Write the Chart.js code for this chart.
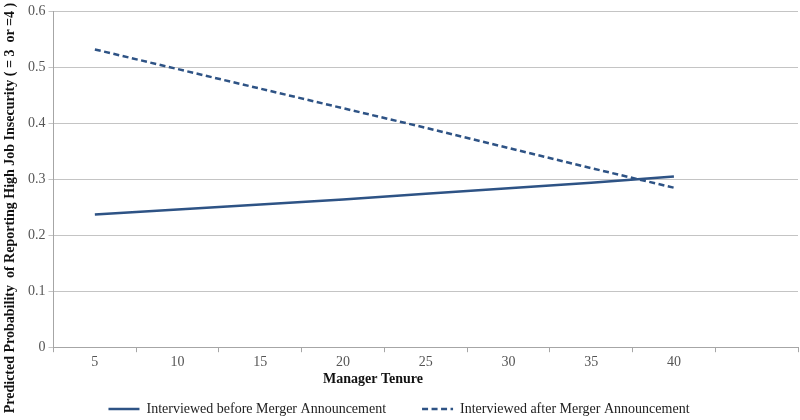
<!DOCTYPE html>
<html lang="en">
<head>
  <meta charset="UTF-8">
  <title>Manager Tenure</title>
  <script src="https://cdn.jsdelivr.net/npm/chart.js"></script>
  <style>
    html, body { margin: 0; padding: 0; background: #fff; }
    #wrap { width: 800px; height: 420px; }
  </style>
</head>
<body>
<div id="wrap"><canvas id="tenureChart"></canvas></div>
<script>
  // Manager tenure categories (last one is an empty slot, as in the original)
  const tenure = ['5', '10', '15', '20', '25', '30', '35', '40', ''];
  const beforeMerger = [0.237, 0.246, 0.255, 0.264, 0.274, 0.284, 0.294, 0.305];
  const afterMerger = [0.532, 0.497, 0.462, 0.427, 0.392, 0.356, 0.320, 0.285];
  const yTicks = [0, 0.1, 0.2, 0.3, 0.4, 0.5, 0.6];

  const xTitle = 'Manager Tenure';
  const yTitle = 'Predicted Probability  of Reporting High Job Insecurity ( = 3  or =4 )';

  const lineColor = '#2E5385';
  const serif = "'Liberation Serif', 'Times New Roman', serif";

  // axis titles drawn by hand so they sit where the original has them
  const axisTitles = {
    id: 'axisTitles',
    afterDraw(chart) {
      const ctx = chart.ctx;
      const xs = chart.scales.x;
      ctx.save();
      ctx.fillStyle = '#111';
      ctx.textAlign = 'center';
      ctx.textBaseline = 'middle';
      ctx.font = 'bold 14px ' + serif;
      ctx.fillText(xTitle, chart.width / 2 - 27, xs.top + 32);
      ctx.translate(10, chart.height / 2 - 2);
      ctx.rotate(-Math.PI / 2);
      ctx.font = 'bold 14px ' + serif;
      ctx.fillText(yTitle, 0, 0);
      ctx.restore();
    }
  };

  new Chart(document.getElementById('tenureChart'), {
    type: 'line',
    data: {
      labels: tenure,
      datasets: [{
        label: 'Interviewed before Merger Announcement',
        data: beforeMerger,
        borderColor: lineColor,
        borderWidth: 2.5,
        pointRadius: 0,
        tension: 0
      }, {
        label: 'Interviewed after Merger Announcement',
        data: afterMerger,
        borderColor: lineColor,
        borderWidth: 2.5,
        borderDash: [6, 3.5],
        pointRadius: 0,
        tension: 0
      }]
    },
    options: {
      responsive: true,
      maintainAspectRatio: false,
      animation: false,
      layout: { padding: { top: 7, right: 2, left: 0, bottom: -6 } },
      plugins: {
        legend: {
          position: 'bottom',
          labels: {
            usePointStyle: true,
            pointStyleWidth: 31,
            boxHeight: 14,
            padding: 1,
            color: '#222',
            font: { family: serif, size: 14 },
            generateLabels: (chart) => chart.data.datasets.map((ds, i) => ({
              text: ds.label + (i === 0 ? '          ' : ''),
              strokeStyle: ds.borderColor,
              fillStyle: ds.borderColor,
              lineWidth: 2.5,
              lineDash: ds.borderDash || [],
              pointStyle: 'line',
              fontColor: '#222',
              hidden: false,
              datasetIndex: i
            }))
          }
        },
        tooltip: { enabled: false }
      },
      scales: {
        x: {
          offset: true,
          afterFit: (axis) => { axis.height += 28; },
          grid: {
            offset: true,
            drawOnChartArea: false,
            tickLength: 5,
            color: '#A6A6A6'
          },
          border: { color: '#A6A6A6' },
          ticks: {
            color: '#555',
            font: { family: serif, size: 14 },
            padding: 2,
            maxRotation: 0,
            autoSkip: false
          }
        },
        y: {
          min: 0,
          max: 0.6,
          afterBuildTicks: (axis) => { axis.ticks = yTicks.map(v => ({ value: v })); },
          afterFit: (axis) => { axis.width += 25; },
          grid: {
            color: '#C4C4C4',
            tickLength: 5,
            lineWidth: 1
          },
          border: { color: '#A6A6A6' },
          ticks: {
            color: '#555',
            font: { family: serif, size: 14 },
            padding: 3
          }
        }
      }
    },
    plugins: [axisTitles]
  });
</script>
</body>
</html>
